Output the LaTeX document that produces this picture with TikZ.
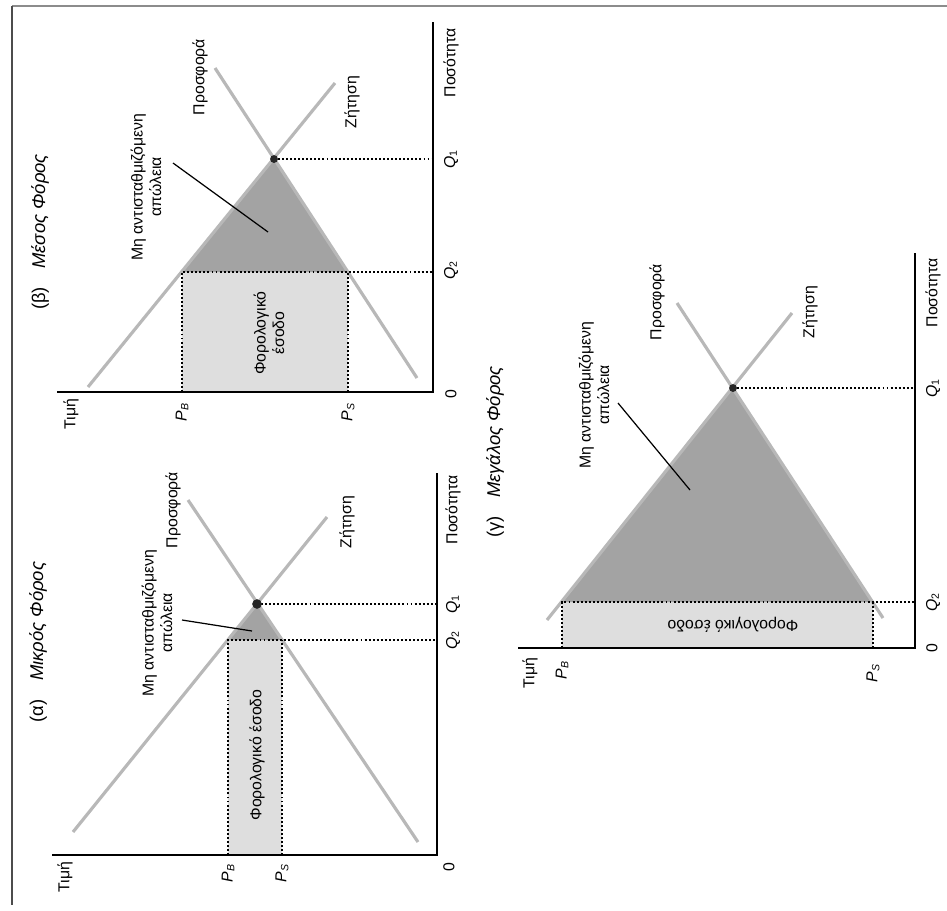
\documentclass[tikz,border=0pt]{standalone}
\usepackage{fontspec}
\setmainfont{Liberation Sans}
\definecolor{curvegray}{gray}{0.72}
\definecolor{lossgray}{gray}{0.64}
\definecolor{revgray}{gray}{0.87}
\newcommand{\PB}{\textit{P}\textsubscript{\textit{B}}}
\newcommand{\PS}{\textit{P}\textsubscript{\textit{S}}}
\newcommand{\Qi}{\textit{Q}\textsubscript{1}}
\newcommand{\Qii}{\textit{Q}\textsubscript{2}}
\begin{document}
\begin{tikzpicture}[x=0.02cm, y=0.02cm,
    curve/.style={draw=curvegray, line width=1.8pt},
    guide/.style={dash pattern=on 1.1pt off 1.2pt, line width=0.9pt},
    axis/.style={line width=0.8pt},
    pointer/.style={line width=0.7pt},
    lbl/.style={transform shape, inner sep=0pt, font=\fontsize{9}{10.5}\selectfont},
    ttl/.style={transform shape, inner sep=0pt, font=\fontsize{10.5}{12}\selectfont},
    eqdot/.style={circle, fill=black!85, inner sep=0pt, minimum size=#1}
]
\useasboundingbox (0,0) rectangle (947,-910);
% frame of the scanned page
\draw[black!45, line width=1.2pt] (12,-6) -- (947,-6);
\draw[black!70, line width=0.6pt] (12,-6) -- (12,-905);

% (a) small tax
\begin{scope}[shift={(437,-855)}, rotate=90]
    \coordinate (aO) at (0,0);
    \coordinate (aS1) at (13,19);
    \coordinate (aS2) at (355,249);
    \coordinate (aD1) at (23,364);
    \coordinate (aD2) at (338,110);
    \coordinate (aEq) at (251,180);
    \coordinate (aB) at (0,209);
    \coordinate (aS) at (0,155);
    \coordinate (aBQ) at (215,209);
    \coordinate (aSQ) at (215,155);
    \coordinate (aQ2) at (215,0);
    \coordinate (aQ1) at (251,0);
    \fill[revgray] (aS) rectangle (aBQ);
    \fill[lossgray] (aSQ) -- (aBQ) -- (aEq) -- cycle;
    \draw[curve] (aS1) -- (aS2);
    \draw[curve] (aD1) -- (aD2);
    \draw[guide] (aB) -- (aBQ) -- (aQ2);
    \draw[guide] (aS) -- (aSQ);
    \draw[guide] (aEq) -- (aQ1);
    \draw[axis] (0,385) -- (aO) -- (382,0);
    \node[eqdot=5.5pt] (aE) at (aEq) {};
    \node[lbl] (aPrice) at (-22,372) {Τιμή};
    \node[lbl] (aPB) at (-18,209) {\PB};
    \node[lbl] (aPS) at (-18,155) {\PS};
    \node[lbl] (aZero) at (-12,-12) {0};
    \node[lbl] (aQtyL) at (345,-16) {Ποσότητα};
    \node[lbl] (aQ1L) at (251,-16) {\Qi};
    \node[lbl] (aQ2L) at (215,-16) {\Qii};
    \node[lbl] (aSup) at (345,264) {Προσφορά};
    \node[lbl] (aDem) at (333,90) {Ζήτηση};
    \node[lbl, align=center] (aLoss) at (232,280) {Μη αντισταθμιζόμενη\\απώλεια};
    \node[lbl] (aRev) at (100,180) {Φορολογικό έσοδο};
    \node[ttl] (aTitle) at (213,399) {(α)\quad\textit{Μικρός Φόρος}};
    \coordinate (aTail) at (235,255);
    \coordinate (aTip) at (224,185);
    \draw[pointer] (aTail) -- (aTip);
\end{scope}

% (b) medium tax
\begin{scope}[shift={(433,-392)}, rotate=90]
    \coordinate (bO) at (0,0);
    \coordinate (bS1) at (14,16);
    \coordinate (bS2) at (324,218);
    \coordinate (bD1) at (5,345);
    \coordinate (bD2) at (309,98);
    \coordinate (bEq) at (233,159);
    \coordinate (bB) at (0,251);
    \coordinate (bS) at (0,85);
    \coordinate (bBQ) at (120,251);
    \coordinate (bSQ) at (120,85);
    \coordinate (bQ2) at (120,0);
    \coordinate (bQ1) at (233,0);
    \fill[revgray] (bS) rectangle (bBQ);
    \fill[lossgray] (bSQ) -- (bBQ) -- (bEq) -- cycle;
    \draw[curve] (bS1) -- (bS2);
    \draw[curve] (bD1) -- (bD2);
    \draw[guide] (bB) -- (bBQ) -- (bQ2);
    \draw[guide] (bS) -- (bSQ);
    \draw[guide] (bEq) -- (bQ1);
    \draw[axis] (0,376) -- (bO) -- (370,0);
    \node[eqdot=4.5pt] (bE) at (bEq) {};
    \node[lbl] (bPrice) at (-22,362) {Τιμή};
    \node[lbl] (bPB) at (-20,251) {\PB};
    \node[lbl] (bPS) at (-20,85) {\PS};
    \node[lbl] (bZero) at (-2,-18) {0};
    \node[lbl] (bQtyL) at (329,-18) {Ποσότητα};
    \node[lbl] (bQ1L) at (233,-18) {\Qi};
    \node[lbl] (bQ2L) at (122,-18) {\Qii};
    \node[lbl] (bSup) at (315,233) {Προσφορά};
    \node[lbl] (bDem) at (290,81) {Ζήτηση};
    \node[lbl, align=center] (bLoss) at (205,287) {Μη αντισταθμιζόμενη\\απώλεια};
    \node[lbl, align=center] (bRev) at (59,164) {Φορολογικό\\έσοδο};
    \node[ttl] (bTitle) at (160,393) {(β)\quad\textit{Μέσος Φόρος}};
    \coordinate (bTail) at (229,260);
    \coordinate (bTip) at (160,165);
    \draw[pointer] (bTail) -- (bTip);
\end{scope}

% (c) large tax
\begin{scope}[shift={(915,-648)}, rotate=90]
    \coordinate (cO) at (0,0);
    \coordinate (cS1) at (30,32);
    \coordinate (cS2) at (345,238);
    \coordinate (cD1) at (28,368);
    \coordinate (cD2) at (335,123);
    \coordinate (cEq) at (260,182);
    \coordinate (cB) at (0,353);
    \coordinate (cS) at (0,42);
    \coordinate (cBQ) at (46,353);
    \coordinate (cSQ) at (46,42);
    \coordinate (cQ2) at (46,0);
    \coordinate (cQ1) at (260,0);
    \fill[revgray] (cS) rectangle (cBQ);
    \fill[lossgray] (cSQ) -- (cBQ) -- (cEq) -- cycle;
    \draw[curve] (cS1) -- (cS2);
    \draw[curve] (cD1) -- (cD2);
    \draw[guide] (cB) -- (cBQ) -- (cQ2);
    \draw[guide] (cS) -- (cSQ);
    \draw[guide] (cEq) -- (cQ1);
    \draw[axis] (0,397) -- (cO) -- (395,0);
    \node[eqdot=4.5pt] (cE) at (cEq) {};
    \node[lbl] (cPrice) at (-25,385) {Τιμή};
    \node[lbl] (cPB) at (-22,353) {\PB};
    \node[lbl] (cPS) at (-25,42) {\PS};
    \node[lbl] (cZero) at (0,-17) {0};
    \node[lbl] (cQtyL) at (355,-18) {Ποσότητα};
    \node[lbl] (cQ1L) at (260,-18) {\Qi};
    \node[lbl] (cQ2L) at (46,-18) {\Qii};
    \node[lbl] (cSup) at (346,258) {Προσφορά};
    \node[lbl] (cDem) at (336,105) {Ζήτηση};
    \node[lbl, align=center] (cLoss) at (253,321) {Μη αντισταθμιζόμενη\\απώλεια};
    \node[lbl, rotate=90] (cRev) at (23,182) {Φορολογικό έσοδο};
    \node[ttl] (cTitle) at (196,420) {(γ)\quad\textit{Μεγάλος Φόρος}};
    \coordinate (cTail) at (245,297);
    \coordinate (cTip) at (158,225);
    \draw[pointer] (cTail) -- (cTip);
\end{scope}
\end{tikzpicture}
\end{document}
